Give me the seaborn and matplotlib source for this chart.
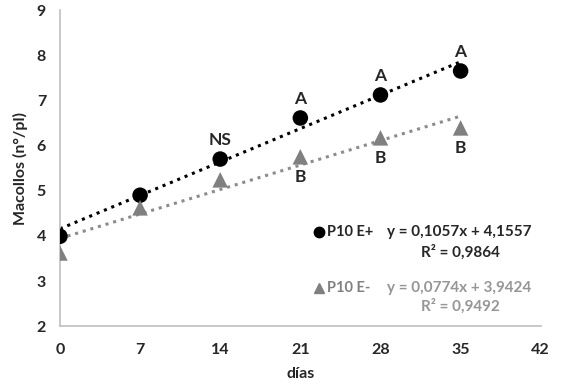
import numpy as np
import pandas as pd
import matplotlib
matplotlib.use("Agg")
import matplotlib.pyplot as plt
import seaborn as sns

dias = [0, 7, 14, 21, 28, 35]
e_mas = [3.99, 4.90, 5.70, 6.61, 7.12, 7.65]
e_menos = [3.62, 4.62, 5.24, 5.75, 6.17, 6.39]
letras_mas = ["", "", "NS", "A", "A", "A"]
letras_menos = ["", "", "", "B", "B", "B"]
coef_mas = (0.1057, 4.1557)
coef_menos = (0.0774, 3.9424)

sns.set_style("white")
plt.rcParams["font.family"] = ["Lato", "DejaVu Sans"]
plt.rcParams["font.weight"] = "bold"

df = pd.DataFrame({"dias": dias * 2, "macollos": e_mas + e_menos,
                   "serie": ["P10 E+"] * 6 + ["P10 E-"] * 6})

fig = plt.figure(figsize=(5.71, 3.86), dpi=100)
ax = fig.add_axes([0.105, 0.155, 0.842, 0.819])

# trend lines
xt = np.array([0, 35])
ax.plot(xt, coef_mas[0] * xt + coef_mas[1], color="black", ls=(0, (1, 1.6)), lw=2.2, zorder=1)
ax.plot(xt, coef_menos[0] * xt + coef_menos[1], color="#8c8c8c", ls=(0, (1, 1.6)), lw=2.2, zorder=1)

sns.scatterplot(data=df, x="dias", y="macollos", hue="serie", style="serie",
                markers={"P10 E+": "o", "P10 E-": "^"},
                palette={"P10 E+": "black", "P10 E-": "#808080"},
                s=125, edgecolor="none", legend=False, ax=ax, zorder=3)

for x, y, t in zip(dias, e_mas, letras_mas):
    if t:
        ax.annotate(t, (x, y), xytext=(0, 8), textcoords="offset points",
                    ha="center", va="bottom", fontsize=12.5, fontweight="bold")
for x, y, t in zip(dias, e_menos, letras_menos):
    if t:
        ax.annotate(t, (x, y), xytext=(0, -9), textcoords="offset points",
                    ha="center", va="top", fontsize=12.5, fontweight="bold")

# in-plot legend with equations
ax.plot([22.6], [4.08], marker="o", color="black", ms=7.5, ls="none")
ax.text(23.3, 4.08, "P10 E+", va="center", fontsize=10.5, fontweight="bold")
ax.text(34.9, 4.08, "y = 0,1057x + 4,1557", va="center", ha="center", fontsize=11, fontweight="bold")
ax.text(35.0, 3.64, "R² = 0,9864", va="center", ha="center", fontsize=11, fontweight="bold")
ax.plot([22.6], [2.84], marker="^", color="#808080", ms=7.5, ls="none")
ax.text(23.3, 2.84, "P10 E-", va="center", fontsize=10.5, fontweight="bold", color="#808080")
ax.text(34.9, 2.84, "y = 0,0774x + 3,9424", va="center", ha="center", fontsize=11,
        fontweight="bold", color="#969696")
ax.text(35.0, 2.44, "R² = 0,9492", va="center", ha="center", fontsize=11,
        fontweight="bold", color="#969696")

ax.set_xlim(0, 42)
ax.set_ylim(2, 9)
ax.set_xticks(range(0, 43, 7))
ax.set_yticks(range(2, 10))
ax.tick_params(length=0, labelsize=11.5)
ax.tick_params(axis="x", pad=12)
ax.tick_params(axis="y", pad=10)
for lab in ax.get_xticklabels() + ax.get_yticklabels():
    lab.set_fontweight("bold")
ax.set_xlabel("días", fontsize=11.5, fontweight="bold", labelpad=7)
ax.set_ylabel("Macollos (n°/pl)", fontsize=11.5, fontweight="bold", labelpad=6)
sns.despine(ax=ax)
for s in ("left", "bottom"):
    ax.spines[s].set_color("#bfbfbf")
    ax.spines[s].set_linewidth(1.2)

fig.savefig("out.png", dpi=100)
